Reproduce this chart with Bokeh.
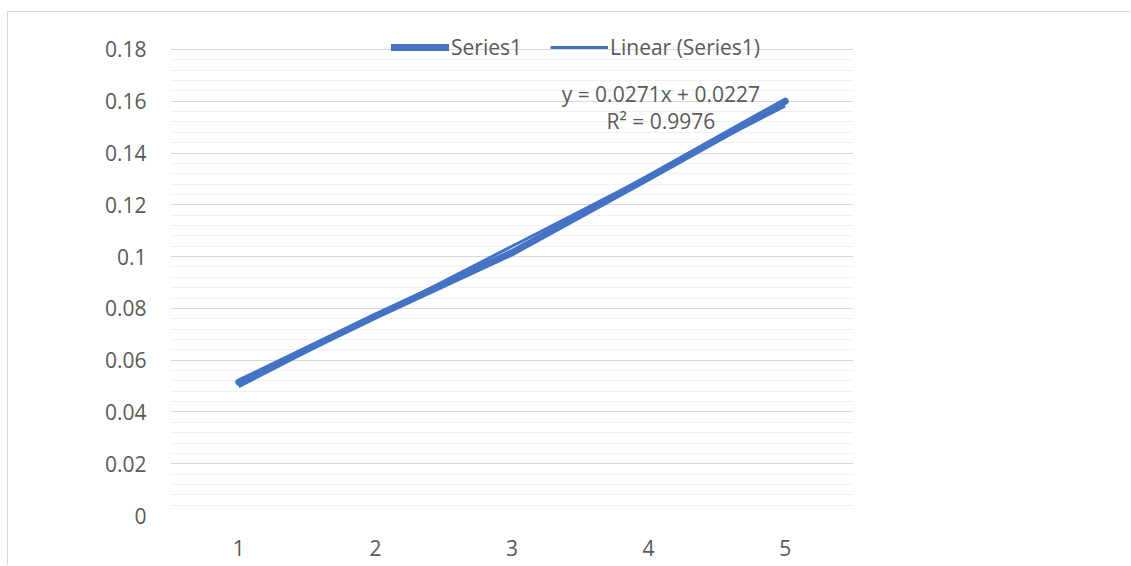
from bokeh.plotting import figure
from bokeh.models import Range1d, FixedTicker, Legend, LegendItem, Label
from bokeh.embed import file_html
from bokeh.resources import INLINE

# Measured series
x_values = [1, 2, 3, 4, 5]
series1 = [0.0515, 0.0770, 0.1015, 0.1305, 0.1600]

# Linear trendline as reported on the chart
trend_slope = 0.0271
trend_intercept = 0.0227
r_squared = 0.9976

# Axis ticks
y_ticks = [0, 0.02, 0.04, 0.06, 0.08, 0.10, 0.12, 0.14, 0.16, 0.18]
y_tick_labels = ["0", "0.02", "0.04", "0.06", "0.08", "0.1", "0.12", "0.14", "0.16", "0.18"]
x_tick_labels = ["1", "2", "3", "4", "5"]

FONT = "Open Sans"
FONT_SIZE = "21px"
TEXT = "#595959"
BLUE = "#4472C4"
BORDER = "#d9d9d9"

trend_y = [trend_slope * x + trend_intercept for x in x_values]

# Value axis stops at 0.18; the extra headroom holds the legend strip
p = figure(width=1123, height=554, output_backend="svg", toolbar_location=None,
           x_range=Range1d(0.5, 5.5), y_range=Range1d(0, 0.19429),
           min_border_left=162, min_border_right=278,
           min_border_top=0, min_border_bottom=51)
p.margin = (11, 0, 0, 7)
p.styles = {"border-top": f"1px solid {BORDER}",
            "border-left": f"1px solid {BORDER}"}
p.background_fill_color = "white"
p.border_fill_color = "white"
p.outline_line_color = None

# Gridlines
p.xgrid.grid_line_color = None
p.ygrid.grid_line_color = BORDER
p.ygrid.grid_line_width = 1
p.ygrid.minor_grid_line_color = "#f0f0f0"
p.ygrid.minor_grid_line_width = 1

minor = [round(i * 0.004, 3) for i in range(46) if i % 5 != 0]
p.yaxis.ticker = FixedTicker(ticks=y_ticks, minor_ticks=minor)
p.yaxis.major_label_overrides = {t: s for t, s in zip(y_ticks, y_tick_labels)}
p.xaxis.ticker = FixedTicker(ticks=x_values)
p.xaxis.major_label_overrides = {x: s for x, s in zip(x_values, x_tick_labels)}

for ax in (p.xaxis, p.yaxis):
    ax.axis_line_color = None
    ax.major_tick_line_color = None
    ax.minor_tick_line_color = None
    ax.major_label_text_font = FONT
    ax.major_label_text_font_size = FONT_SIZE
    ax.major_label_text_color = TEXT
p.yaxis.major_label_standoff = 18
p.xaxis.major_label_standoff = 18

# Lines
r_series = p.line(x_values, series1, line_color=BLUE, line_width=7,
                  line_cap="round", line_join="round")
r_trend = p.line(x_values, trend_y, line_color=BLUE, line_width=3)

legend = Legend(items=[LegendItem(label="Series1", renderers=[r_series]),
                       LegendItem(label="Linear (Series1)", renderers=[r_trend])],
                orientation="horizontal", location=(221, 454),
                label_text_font=FONT, label_text_font_size=FONT_SIZE,
                label_text_color=TEXT, glyph_width=58, glyph_height=20,
                label_standoff=2, spacing=28, padding=0, margin=0,
                background_fill_alpha=0, border_line_color=None)
p.add_layout(legend)

eq = Label(x=4.09, y=0.1629,
           text=f"y = {trend_slope}x + {trend_intercept}",
           text_font=FONT, text_font_size=FONT_SIZE, text_color=TEXT,
           text_align="center", text_baseline="middle")
r2 = Label(x=4.09, y=0.1522, text=f"R² = {r_squared}",
           text_font=FONT, text_font_size=FONT_SIZE, text_color=TEXT,
           text_align="center", text_baseline="middle")
p.add_layout(eq)
p.add_layout(r2)

open("out.html", "w").write(file_html(p, INLINE))
